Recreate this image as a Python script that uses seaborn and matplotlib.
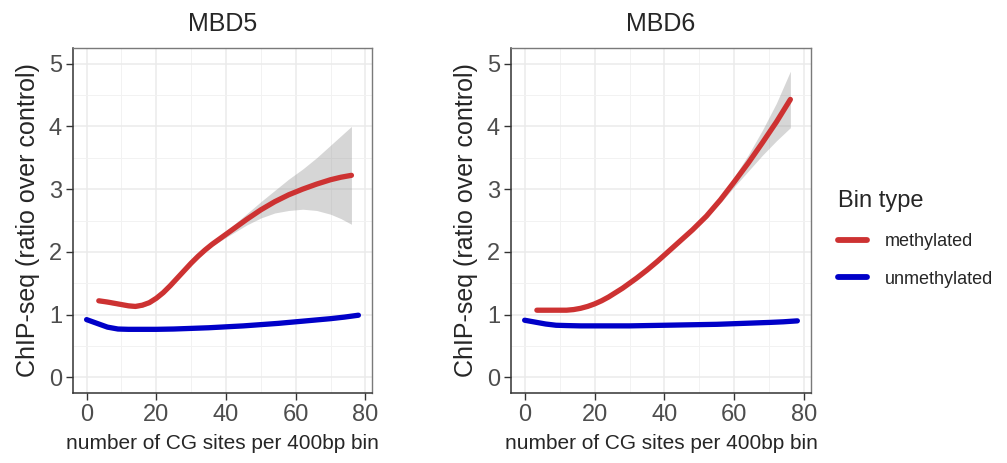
import numpy as np
import pandas as pd
import matplotlib
matplotlib.use('Agg')
import matplotlib.pyplot as plt
from matplotlib.lines import Line2D
from matplotlib.ticker import MultipleLocator
import seaborn as sns

# values (smoothed curves + confidence band)
mbd5_meth_x = [3.5, 6, 9, 12, 14, 16, 18, 20, 22, 24, 26, 28, 30, 32, 34, 36, 38, 40,
               43, 46, 50, 54, 58, 62, 66, 70, 73, 76]
mbd5_meth_y = [1.22, 1.20, 1.17, 1.14, 1.13, 1.15, 1.19, 1.26, 1.35, 1.46, 1.58, 1.70, 1.82,
               1.93, 2.03, 2.12, 2.20, 2.28, 2.40, 2.52, 2.67, 2.80, 2.91, 3.00, 3.08, 3.15,
               3.19, 3.22]
mbd5_meth_se = [0.03, 0.03, 0.03, 0.03, 0.03, 0.03, 0.03, 0.03, 0.03, 0.03, 0.03, 0.03, 0.03,
                0.03, 0.03, 0.03, 0.04, 0.05, 0.07, 0.09, 0.13, 0.18, 0.25, 0.32, 0.42, 0.55,
                0.66, 0.78]

mbd5_unmeth_x = [0, 3, 6, 9, 12, 16, 20, 25, 30, 35, 40, 45, 50, 55, 60, 65, 70, 74, 78]
mbd5_unmeth_y = [0.92, 0.86, 0.80, 0.77, 0.765, 0.765, 0.765, 0.77, 0.78, 0.79, 0.805, 0.82,
                 0.84, 0.86, 0.885, 0.91, 0.935, 0.96, 0.99]

mbd6_meth_x = [3.5, 6, 9, 12, 14, 16, 18, 20, 22, 24, 26, 28, 30, 32, 35, 38, 41, 44, 48,
               52, 56, 60, 64, 68, 72, 76]
mbd6_meth_y = [1.07, 1.07, 1.07, 1.07, 1.08, 1.10, 1.13, 1.17, 1.22, 1.28, 1.35, 1.42, 1.50,
               1.58, 1.71, 1.85, 2.00, 2.15, 2.35, 2.57, 2.83, 3.12, 3.42, 3.74, 4.07, 4.43]
mbd6_meth_se = [0.03, 0.03, 0.02, 0.02, 0.02, 0.02, 0.02, 0.02, 0.02, 0.02, 0.02, 0.02, 0.02,
                0.02, 0.02, 0.02, 0.02, 0.02, 0.02, 0.03, 0.05, 0.08, 0.13, 0.20, 0.30, 0.45]

mbd6_unmeth_x = [0, 3, 6, 9, 12, 16, 20, 25, 30, 35, 40, 45, 50, 55, 60, 65, 70, 74, 78]
mbd6_unmeth_y = [0.91, 0.88, 0.85, 0.83, 0.825, 0.82, 0.82, 0.82, 0.82, 0.825, 0.83, 0.835,
                 0.84, 0.845, 0.855, 0.865, 0.875, 0.885, 0.90]
unmeth_se = 0.025

bin_types = ['methylated', 'unmethylated']
panel_titles = ['MBD5', 'MBD6']
colors = {'methylated': '#CD3232', 'unmethylated': '#0000C8'}

sns.set_style('white')
plt.rcParams['font.family'] = ['Liberation Sans', 'DejaVu Sans']

def make_df(mx, my, mse, ux, uy):
    d1 = pd.DataFrame({'x': mx, 'y': my, 'se': mse, 'Bin type': 'methylated'})
    d2 = pd.DataFrame({'x': ux, 'y': uy, 'se': unmeth_se, 'Bin type': 'unmethylated'})
    return pd.concat([d1, d2], ignore_index=True)

frames = [make_df(mbd5_meth_x, mbd5_meth_y, mbd5_meth_se, mbd5_unmeth_x, mbd5_unmeth_y),
          make_df(mbd6_meth_x, mbd6_meth_y, mbd6_meth_se, mbd6_unmeth_x, mbd6_unmeth_y)]

fig = plt.figure(figsize=(10.07, 4.63), dpi=100)
W, H = 1007, 463
ax_boxes = [(73, 48, 372, 393), (511, 48, 811, 393)]

for box, df, title in zip(ax_boxes, frames, panel_titles):
    l, t, r, b = box
    ax = fig.add_axes([l / W, 1 - b / H, (r - l) / W, (b - t) / H])
    for bt in bin_types:
        sub = df[df['Bin type'] == bt]
        ax.fill_between(sub['x'], sub['y'] - sub['se'], sub['y'] + sub['se'],
                        color='#999999', alpha=0.4, linewidth=0, zorder=2)
    sns.lineplot(data=df, x='x', y='y', hue='Bin type', palette=colors, hue_order=bin_types,
                 linewidth=3.8, legend=False, ax=ax, zorder=3, errorbar=None, sort=True)
    ax.set_xlim(-3.9, 81.9)
    ax.set_ylim(-0.25, 5.25)
    ax.xaxis.set_major_locator(MultipleLocator(20))
    ax.xaxis.set_minor_locator(MultipleLocator(10))
    ax.yaxis.set_major_locator(MultipleLocator(1))
    ax.yaxis.set_minor_locator(MultipleLocator(0.5))
    ax.grid(which='major', color='#EBEBEB', linewidth=1.1, zorder=0)
    ax.grid(which='minor', color='#F2F2F2', linewidth=0.7, zorder=0)
    ax.set_axisbelow(True)
    ax.tick_params(axis='both', which='major', direction='out', length=5, width=1.0,
                   color='#333333', labelsize=17, labelcolor='#4D4D4D', pad=3,
                   bottom=True, left=True)
    ax.tick_params(axis='both', which='minor', length=0)
    for side in ['left', 'bottom']:
        ax.spines[side].set_color('#333333')
        ax.spines[side].set_linewidth(1.1)
    for side in ['top', 'right']:
        ax.spines[side].set_color('#7A7A7A')
        ax.spines[side].set_linewidth(1.0)
    ax.set_title(title, fontsize=18, pad=12)
    ax.set_xlabel('number of CG sites per 400bp bin', fontsize=15, labelpad=6)
    ax.set_ylabel('ChIP-seq (ratio over control)', fontsize=18, labelpad=6)

handles = [Line2D([0], [0], color=colors[bt], linewidth=4.2) for bt in bin_types]
fig.legend(handles, bin_types, title='Bin type', loc='upper left',
           bbox_to_anchor=(822 / W, 1 - 174 / H), frameon=False, fontsize=13,
           title_fontsize=17, handlelength=1.6, handletextpad=1.0, labelspacing=1.15,
           alignment='left')

plt.savefig('out.png', dpi=100)
plt.close()
